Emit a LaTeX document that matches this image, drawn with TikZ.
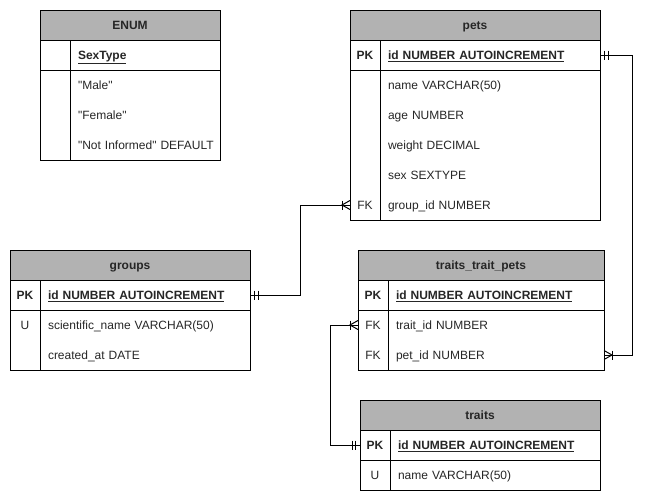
\documentclass[tikz,border=0pt]{standalone}
\usepackage{fontspec}
\setmainfont{Liberation Sans}[Ligatures=TeXOff]
\usetikzlibrary{calc}
\tikzstyle{every node}=[inner sep=0pt, outer sep=0pt, text height=10.9pt, text depth=2.5pt, text=black!85, font=\fontsize{12}{14}\selectfont]
\tikzstyle{header}=[draw=black, fill=gray!60, anchor=north west, minimum height=30pt, font=\fontsize{12}{14}\selectfont\bfseries]
\tikzstyle{keycol}=[anchor=west, minimum width=30pt, minimum height=30pt]
\tikzstyle{field}=[anchor=west, align=left, inner xsep=8pt, minimum height=30pt]
% relation ends: #1 anchor, #2 side (1 = right, -1 = left)
\newcommand{\erone}[2]{%
  \draw ($(#1)+(#2*4.5,-4.5)$) -- ++(0,9) ($(#1)+(#2*8,-4.5)$) -- ++(0,9);}
\newcommand{\ermany}[2]{%
  \draw ($(#1)+(#2*8,-4.5)$) -- ++(0,9);
  \draw ($(#1)+(0,-4.5)$) -- ($(#1)+(#2*8,0)$) -- ($(#1)+(0,4.5)$);}

\begin{document}
\begin{tikzpicture}[x=1pt, y=-1pt, line width=1pt]
    \useasboundingbox (0,0) rectangle (653,501);
    % ENUM
    \node[header, minimum width=180pt] (enum) at (40,10) {ENUM};
    \node[field, text width=134pt] (enum-f0) at (70,55) {\underline{\textbf{SexType}}};
    \foreach \v [count=\i] in {{"Male"},{"Female"},{"Not Informed" DEFAULT}}
      \node[field, text width=134pt] (enum-f\i) at (70,{55+30*\i}) {\mbox{\v}};
    \draw (enum.south west) rectangle (enum-f3.south east);
    \draw (enum-f0.north west) -- (enum-f3.south west);
    \draw (enum.south west |- enum-f0.south) -- (enum-f0.south east);
    % pets
    \node[header, minimum width=250pt] (pets) at (350,10) {pets};
    \node[keycol] (pets-k1) at (350,55) {\textbf{PK}};
    \node[field, text width=204pt] (pets-f1) at (380,55) {\underline{\textbf{id NUMBER AUTOINCREMENT}}};
    \node[field, text width=204pt] (pets-f2) at (380,85) {name VARCHAR(50)};
    \node[field, text width=204pt] (pets-f3) at (380,115) {age NUMBER};
    \node[field, text width=204pt] (pets-f4) at (380,145) {weight DECIMAL};
    \node[field, text width=204pt] (pets-f5) at (380,175) {sex SEXTYPE};
    \node[keycol] (pets-k6) at (350,205) {FK};
    \node[field, text width=204pt] (pets-f6) at (380,205) {group\_id NUMBER};
    \draw (pets.south west) rectangle (pets-f6.south east);
    \draw (pets-f1.north west) -- (pets-f6.south west);
    \draw (pets-k1.south west) -- (pets-f1.south east);
    % groups
    \node[header, minimum width=240pt] (groups) at (10,250) {groups};
    \node[keycol] (groups-k1) at (10,295) {\textbf{PK}};
    \node[field, text width=194pt] (groups-f1) at (40,295) {\underline{\textbf{id NUMBER AUTOINCREMENT}}};
    \node[keycol] (groups-k2) at (10,325) {U};
    \node[field, text width=194pt] (groups-f2) at (40,325) {scientific\_name VARCHAR(50)};
    \node[field, text width=194pt] (groups-f3) at (40,355) {created\_at DATE};
    \draw (groups.south west) rectangle (groups-f3.south east);
    \draw (groups-f1.north west) -- (groups-f3.south west);
    \draw (groups-k1.south west) -- (groups-f1.south east);
    % traits_trait_pets
    \node[header, minimum width=246pt] (ttp) at (358,250) {traits\_trait\_pets};
    \node[keycol] (ttp-k1) at (358,295) {\textbf{PK}};
    \node[field, text width=200pt] (ttp-f1) at (388,295) {\underline{\textbf{id NUMBER AUTOINCREMENT}}};
    \node[keycol] (ttp-k2) at (358,325) {FK};
    \node[field, text width=200pt] (ttp-f2) at (388,325) {trait\_id NUMBER};
    \node[keycol] (ttp-k3) at (358,355) {FK};
    \node[field, text width=200pt] (ttp-f3) at (388,355) {pet\_id NUMBER};
    \draw (ttp.south west) rectangle (ttp-f3.south east);
    \draw (ttp-f1.north west) -- (ttp-f3.south west);
    \draw (ttp-k1.south west) -- (ttp-f1.south east);
    % traits
    \node[header, minimum width=240pt] (traits) at (360,400) {traits};
    \node[keycol] (traits-k1) at (360,445) {\textbf{PK}};
    \node[field, text width=194pt] (traits-f1) at (390,445) {\underline{\textbf{id NUMBER AUTOINCREMENT}}};
    \node[keycol] (traits-k2) at (360,475) {U};
    \node[field, text width=194pt] (traits-f2) at (390,475) {name VARCHAR(50)};
    \draw (traits.south west) rectangle (traits-f2.south east);
    \draw (traits-f1.north west) -- (traits-f2.south west);
    \draw (traits-k1.south west) -- (traits-f1.south east);
    % relations
    \draw (groups-f1.east) -- ++(50,0) |- (pets-k6.west);
    \erone{groups-f1.east}{1}
    \ermany{pets-k6.west}{-1}
    \draw (pets-f1.east) -- ++(32,0) |- (ttp-f3.east);
    \erone{pets-f1.east}{1}
    \ermany{ttp-f3.east}{1}
    \draw (traits-k1.west) -- ++(-30,0) |- (ttp-k2.west);
    \erone{traits-k1.west}{-1}
    \ermany{ttp-k2.west}{-1}
\end{tikzpicture}
\end{document}
